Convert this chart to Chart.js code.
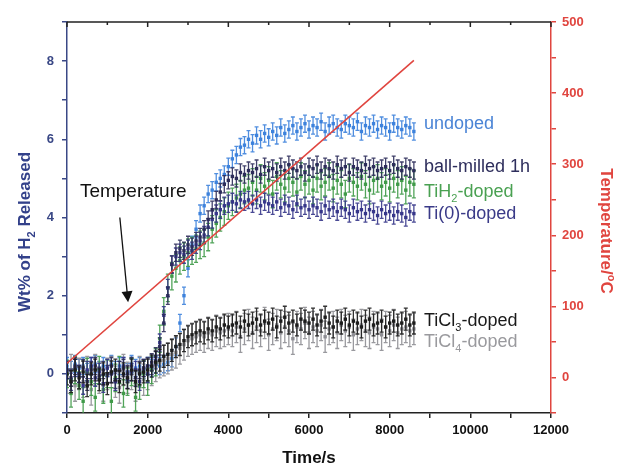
<!DOCTYPE html>
<html>
<head>
<meta charset="utf-8">
<script src="https://cdn.jsdelivr.net/npm/chart.js@4.4.1/dist/chart.umd.min.js"></script>
<style>
  html, body { margin: 0; padding: 0; background: #fff; }
  canvas { display: block; }
</style>
</head>
<body>
<canvas id="chart" width="619" height="468"></canvas>
<script>
// sampling times (s)
var timeS = [0,100,200,300,400,500,600,700,800,900,1000,1100,1200,1300,1400,1500,1600,1700,1800,1900,
  2000,2100,2200,2300,2400,2500,2600,2700,2800,2900,3000,3100,3200,3300,3400,3500,3600,3700,3800,3900,
  4000,4100,4200,4300,4400,4500,4600,4700,4800,4900,5000,5100,5200,5300,5400,5500,5600,5700,5800,5900,
  6000,6100,6200,6300,6400,6500,6600,6700,6800,6900,7000,7100,7200,7300,7400,7500,7600,7700,7800,7900,
  8000,8100,8200,8300,8400,8500,8600];

// wt% H2 released
var undoped = [0.2,0.1,0.25,0.15,0.2,0.05,0.2,0.25,0.1,0.2,0.15,0.25,0.1,0.2,0.2,0.05,0.25,0.15,0.2,0.1,
  0.2,0.15,0.25,0.2,0.25,0.3,
  0.4,0.7,1.3,2.0,2.7,3.3,3.7,4.1,4.3,4.6,4.7,4.9,5.0,5.1,5.3,5.5,5.6,5.8,5.85,6.0,5.9,6.1,6.0,6.15,6.05,
  6.2,6.1,6.3,6.15,6.25,6.35,6.2,6.3,6.4,6.25,6.35,6.3,6.45,6.2,6.35,6.4,6.3,6.25,6.4,6.35,
  6.3,6.45,6.2,6.35,6.3,6.4,6.25,6.35,6.3,6.2,6.4,6.3,6.25,6.35,6.3,6.2];
var ballMilled = [0.1,-0.1,0.2,0.0,0.15,-0.2,0.1,0.2,-0.05,0.1,0.0,0.2,-0.15,0.1,0.15,0.0,0.2,-0.1,0.1,0.15,
  0.2,0.3,0.45,0.7,1.3,2.0,2.8,3.1,3.2,3.15,3.3,3.25,3.4,3.5,3.7,3.95,4.2,4.45,4.65,4.85,4.95,5.05,5.0,5.15,5.1,5.2,
  5.15,5.25,5.1,5.3,5.2,5.25,5.15,5.3,5.2,5.35,5.25,5.2,5.3,5.15,5.3,5.25,5.35,5.2,5.3,5.25,
  5.2,5.35,5.25,5.3,5.15,5.3,5.25,5.2,5.35,5.25,5.3,5.2,5.25,5.3,5.2,5.35,5.25,5.2,5.3,5.25,5.2];
var tiH2 = [0.0,-0.5,0.1,-0.3,-0.7,0.05,-0.2,-0.6,0.1,-0.4,0.0,-0.7,-0.1,0.1,-0.5,-0.2,0.05,-0.6,-0.3,0.0,-0.2,0.1,
  0.3,0.9,1.6,2.2,2.5,2.7,2.9,3.0,3.1,3.15,3.2,3.3,3.35,3.5,3.7,3.85,4.0,4.15,4.3,4.4,4.5,4.6,4.7,4.75,
  4.9,4.7,5.0,4.8,4.95,4.6,5.05,4.85,4.75,5.0,4.9,4.65,5.05,4.85,4.95,4.7,5.0,4.8,4.9,5.05,
  4.75,4.95,4.85,4.6,5.0,4.9,4.8,5.05,4.85,4.7,4.95,5.0,4.8,4.9,4.75,5.0,4.85,4.95,4.7,4.9,4.85];
var ti0 = [0.1,-0.2,0.15,0.0,-0.3,0.1,0.2,-0.1,0.05,-0.25,0.15,0.0,-0.2,0.1,0.2,-0.15,0.05,0.1,-0.2,0.15,0.0,0.2,
  0.35,0.8,1.5,2.2,2.8,3.0,3.1,3.05,3.2,3.15,3.3,3.4,3.55,3.75,3.95,4.1,4.2,4.3,4.35,4.4,4.35,4.45,4.4,4.45,
  4.35,4.45,4.3,4.4,4.35,4.3,4.4,4.25,4.35,4.3,4.2,4.35,4.25,4.3,4.2,4.3,4.25,4.15,4.3,4.2,
  4.25,4.15,4.25,4.2,4.1,4.25,4.15,4.2,4.1,4.2,4.15,4.05,4.2,4.1,4.15,4.05,4.15,4.1,4.0,4.15,4.1];
var tiCl3 = [0.0,-0.2,0.1,-0.1,0.05,-0.3,0.0,0.1,-0.15,0.0,-0.25,0.05,0.1,-0.2,0.0,-0.1,0.1,-0.2,0.0,0.05,
  0.1,0.2,0.3,0.35,0.45,0.5,0.6,0.7,0.75,0.85,0.95,1.0,1.05,1.1,1.05,1.15,1.1,1.2,1.15,1.25,1.2,
  1.25,1.3,1.2,1.35,1.25,1.3,1.4,1.25,1.35,1.3,1.4,1.2,1.35,1.45,1.3,1.35,1.25,1.4,1.35,1.3,
  1.4,1.25,1.35,1.45,1.3,1.2,1.35,1.3,1.4,1.25,1.35,1.3,1.2,1.35,1.4,1.25,1.3,1.35,1.2,1.3,
  1.35,1.25,1.3,1.4,1.25,1.3];
var tiCl4 = [-0.1,0.1,-0.3,0.0,-0.2,0.05,-0.4,0.1,-0.1,-0.3,0.0,0.05,-0.2,-0.35,0.1,-0.1,0.0,-0.3,0.05,-0.15,
  0.0,0.1,0.2,0.3,0.35,0.4,0.5,0.55,0.65,0.75,0.85,0.9,0.95,1.0,0.95,1.05,1.0,1.1,1.05,1.1,1.15,
  1.1,1.2,0.95,1.15,1.25,1.05,1.2,1.1,1.3,1.0,1.15,1.25,1.05,1.2,1.1,0.9,1.2,1.15,1.3,1.05,
  1.2,1.1,1.25,0.95,1.15,1.2,1.05,1.25,1.1,1.2,1.0,1.15,1.25,1.1,1.05,1.2,1.15,1.0,1.2,1.1,
  1.25,1.05,1.15,1.2,1.1,1.15];

// error bar half-heights (wt%)
var errUndoped = 0.22, errBallMilled = 0.22, errTiH2 = 0.35, errTi0 = 0.22, errTiCl3 = 0.28, errTiCl4 = 0.4;

// temperature ramp (s, degC)
var tempTime = [0, 8600];
var tempC = [20, 446];

var xTicks = [0, 2000, 4000, 6000, 8000, 10000, 12000];
var yTicks = [0, 2, 4, 6, 8];
var tTicks = [0, 100, 200, 300, 400, 500];

var FONT = '"Liberation Sans", Arial, Helvetica, sans-serif';
var NAVY = '#3a4886';
var RED = '#e0453f';

function pts(xs, ys) {
  return xs.map(function(x, i) { return { x: x, y: ys[i] }; });
}

function series(label, vals, color, err) {
  return {
    label: label,
    data: pts(timeS, vals),
    yAxisID: 'y',
    showLine: false,
    pointStyle: 'rect',
    pointRadius: 2.4,
    pointBorderWidth: 0,
    backgroundColor: color,
    borderColor: color,
    err: err
  };
}

var errorBars = {
  id: 'errorBars',
  beforeDatasetDraw: function(chart, args) {
    var ds = chart.data.datasets[args.index];
    if (!ds.err) return;
    var ys = chart.scales[ds.yAxisID];
    var c = chart.ctx, a = chart.chartArea;
    c.save();
    c.beginPath(); c.rect(a.left, a.top, a.right - a.left, a.bottom - a.top); c.clip();
    c.strokeStyle = ds.borderColor;
    c.globalAlpha = 0.9;
    c.lineWidth = 1.3;
    c.beginPath();
    ds.data.forEach(function(p, i) {
      var x = args.meta.data[i].x;
      var y1 = ys.getPixelForValue(p.y + ds.err), y2 = ys.getPixelForValue(p.y - ds.err);
      c.moveTo(x, y1); c.lineTo(x, y2);
      c.moveTo(x - 2, y1); c.lineTo(x + 2, y1);
      c.moveTo(x - 2, y2); c.lineTo(x + 2, y2);
    });
    c.stroke();
    c.restore();
  }
};

// text with subscripts: runs = [[text, isSub], ...]
function runsWidth(c, runs, size, weight) {
  var w = 0;
  runs.forEach(function(r) {
    c.font = weight + ' ' + (r[1] ? Math.round(size * 0.62) : size) + 'px ' + FONT;
    w += c.measureText(r[0]).width;
  });
  return w;
}
function drawRuns(c, runs, x, y, size, weight, color) {
  var cx = x;
  c.fillStyle = color;
  c.textBaseline = 'alphabetic';
  c.textAlign = 'left';
  runs.forEach(function(r) {
    c.font = weight + ' ' + (r[1] ? Math.round(size * 0.62) : size) + 'px ' + FONT;
    c.fillText(r[0], cx, r[1] ? y + size * 0.28 : y);
    cx += c.measureText(r[0]).width;
  });
}

var seriesLabels = [
  { runs: [['undoped']], x: 8850, y: 6.27, color: '#4a84d6' },
  { runs: [['ball-milled 1h']], x: 8850, y: 5.17, color: '#2e2e5c' },
  { runs: [['TiH'], ['2', true], ['-doped']], x: 8850, y: 4.53, color: '#4aa152' },
  { runs: [['Ti(0)-doped']], x: 8850, y: 3.96, color: '#3a3a88' },
  { runs: [['TiCl'], ['3', true], ['-doped']], x: 8850, y: 1.23, color: '#1a1a1a' },
  { runs: [['TiCl'], ['4', true], ['-doped']], x: 8850, y: 0.69, color: '#9a9a9e' }
];

var decorations = {
  id: 'decorations',
  afterDraw: function(chart) {
    var c = chart.ctx, a = chart.chartArea;
    var xs = chart.scales.x, ys = chart.scales.y;
    c.save();
    // top frame with small inward ticks
    c.strokeStyle = '#222';
    c.lineWidth = 1.5;
    c.beginPath();
    c.moveTo(a.left, a.top); c.lineTo(a.right, a.top);
    xs.ticks.forEach(function(t) {
      var px = xs.getPixelForValue(t.value);
      c.moveTo(px, a.top); c.lineTo(px, a.top + (t.value % 2000 === 0 ? 5 : 3));
    });
    c.stroke();

    // series labels
    seriesLabels.forEach(function(l) {
      drawRuns(c, l.runs, xs.getPixelForValue(l.x), ys.getPixelForValue(l.y), 18, 'normal', l.color);
    });

    // temperature annotation and arrow
    drawRuns(c, [['Temperature']], xs.getPixelForValue(320), ys.getPixelForValue(4.53), 19, 'normal', '#111');
    var ax0 = xs.getPixelForValue(1310), ay0 = ys.getPixelForValue(4.0);
    var ax1 = xs.getPixelForValue(1515), ay1 = ys.getPixelForValue(1.83);
    var ang = Math.atan2(ay1 - ay0, ax1 - ax0);
    c.strokeStyle = '#111'; c.fillStyle = '#111'; c.lineWidth = 1.3;
    c.beginPath(); c.moveTo(ax0, ay0);
    c.lineTo(ax1 - 9 * Math.cos(ang), ay1 - 9 * Math.sin(ang)); c.stroke();
    c.beginPath();
    c.moveTo(ax1, ay1);
    c.lineTo(ax1 - 11 * Math.cos(ang) + 5.5 * Math.sin(ang), ay1 - 11 * Math.sin(ang) - 5.5 * Math.cos(ang));
    c.lineTo(ax1 - 11 * Math.cos(ang) - 5.5 * Math.sin(ang), ay1 - 11 * Math.sin(ang) + 5.5 * Math.cos(ang));
    c.closePath(); c.fill();

    // axis titles
    var left = [['Wt% of H'], ['2', true], [' Released']];
    c.save();
    c.translate(30, 232); c.rotate(-Math.PI / 2);
    drawRuns(c, left, -runsWidth(c, left, 17, 'bold') / 2, 0, 17, 'bold', '#33418a');
    c.restore();

    c.save();
    c.translate(601, 231); c.rotate(Math.PI / 2);
    c.font = 'bold 17px ' + FONT;
    var w1 = c.measureText('Temperature/').width;
    c.font = 'bold 11px ' + FONT;
    var w2 = c.measureText('o').width;
    c.font = 'bold 17px ' + FONT;
    var w3 = c.measureText('C').width;
    var sx = -(w1 + w2 + w3) / 2;
    c.fillStyle = RED; c.textBaseline = 'alphabetic'; c.textAlign = 'left';
    c.fillText('Temperature/', sx, 0);
    c.font = 'bold 11px ' + FONT;
    c.fillText('o', sx + w1, -7);
    c.font = 'bold 17px ' + FONT;
    c.fillText('C', sx + w1 + w2, 0);
    c.restore();

    c.font = 'bold 17px ' + FONT;
    c.fillStyle = '#111'; c.textAlign = 'center'; c.textBaseline = 'middle';
    c.fillText('Time/s', (a.left + a.right) / 2, 458);
    c.restore();
  }
};

var ctx = document.getElementById('chart').getContext('2d');
var chart = new Chart(ctx, {
  type: 'scatter',
  data: {
    datasets: [
      {
        label: 'Temperature',
        data: pts(tempTime, tempC),
        yAxisID: 'yT',
        showLine: true,
        pointRadius: 0,
        borderColor: RED,
        borderWidth: 1.6
      },
      series('TiCl3-doped', tiCl3, '#1c1c1c', errTiCl3),
      series('ball-milled 1h', ballMilled, '#2c2c5a', errBallMilled),
      series('Ti(0)-doped', ti0, '#36368a', errTi0),
      series('TiH2-doped', tiH2, '#3f9a48', errTiH2),
      series('TiCl4-doped', tiCl4, '#8e8e94', errTiCl4),
      series('undoped', undoped, '#3d82dc', errUndoped)
    ]
  },
  options: {
    responsive: false,
    animation: false,
    layout: { padding: { top: 22, left: 0, right: 0, bottom: 0 } },
    plugins: { legend: { display: false }, tooltip: { enabled: false } },
    scales: {
      x: {
        type: 'linear', min: 0, max: 12000,
        ticks: {
          stepSize: 1000, autoSkip: false, maxRotation: 0, padding: 5,
          color: '#111', font: { family: FONT, size: 13, weight: 'bold' },
          callback: function(v) { return xTicks.indexOf(v) >= 0 ? String(v) : ''; }
        },
        grid: { drawOnChartArea: false, tickLength: 5, color: '#222', lineWidth: 1.5 },
        border: { color: '#222', width: 1.5 },
        afterFit: function(s) { s.height = 55; }
      },
      y: {
        position: 'left', min: -1, max: 9,
        ticks: {
          stepSize: 1, autoSkip: false, padding: 8,
          color: NAVY, font: { family: FONT, size: 13, weight: 'bold' },
          callback: function(v) { return yTicks.indexOf(v) >= 0 ? String(v) : ''; }
        },
        grid: { drawOnChartArea: false, tickLength: 5, color: NAVY, lineWidth: 1.5 },
        border: { color: NAVY, width: 1.5 },
        afterFit: function(s) { s.width = 67; }
      },
      yT: {
        position: 'right', min: -50, max: 500,
        ticks: {
          stepSize: 50, autoSkip: false, padding: 6,
          color: RED, font: { family: FONT, size: 13, weight: 'bold' },
          callback: function(v) { return tTicks.indexOf(v) >= 0 ? String(v) : ''; }
        },
        grid: { drawOnChartArea: false, tickLength: 5, color: RED, lineWidth: 1.5 },
        border: { color: RED, width: 1.5 },
        afterFit: function(s) { s.width = 68; }
      }
    }
  },
  plugins: [errorBars, decorations]
});
</script>
</body>
</html>
